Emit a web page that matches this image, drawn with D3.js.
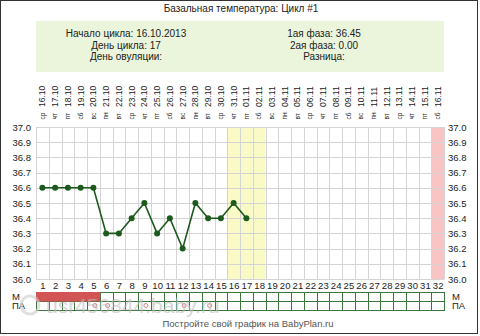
<!DOCTYPE html>
<html>
<head>
<meta charset="utf-8">
<script src="https://cdn.jsdelivr.net/npm/d3@7"></script>
<style>
  body { margin: 0; background: #fff; }
  svg { display: block; font-family: "Liberation Sans", Arial, sans-serif; }
  .grid line { stroke: #d4d4d4; stroke-width: 1; }
  .axis text { font-size: 9.5px; fill: #222; }
  .axis path, .axis line { display: none; }
</style>
</head>
<body>
<svg id="vis" width="480" height="336"></svg>
<script>
// chart data
const dates = ["16.10","17.10","18.10","19.10","20.10","21.10","22.10","23.10","24.10","25.10","26.10","27.10","28.10","29.10","30.10","31.10",
  "01.11","02.11","03.11","04.11","05.11","06.11","07.11","08.11","09.11","10.11","11.11","12.11","13.11","14.11","15.11","16.11"];
const weekdays = ["ср","чт","пт","сб","вс","пн","вт","ср","чт","пт","сб","вс","пн","вт","ср","чт",
  "пт","сб","вс","пн","вт","ср","чт","пт","сб","вс","пн","вт","ср","чт","пт","сб"];
const temps = [36.6, 36.6, 36.6, 36.6, 36.6, 36.3, 36.3, 36.4, 36.5, 36.3, 36.4, 36.2, 36.5, 36.4, 36.4, 36.5, 36.4];
const yTicks = [36.0, 36.1, 36.2, 36.3, 36.4, 36.5, 36.6, 36.7, 36.8, 36.9, 37.0];
const mensDays = [1, 2, 3, 4, 5];
const paDays = [5, 6, 9, 12, 14];
const fertileDays = [16, 17, 18];
const nextCycleDay = [32];
const headerLeft = ["Начало цикла: 16.10.2013", "День цикла: 17", "День овуляции:"];
const headerRight = ["1ая фаза: 36.45", "2ая фаза: 0.00", "Разница:"];

const svg = d3.select("svg#vis");
const days = dates.map((d, i) => i + 1);

const x = d3.scaleLinear().domain([0.5, 32.5]).range([36, 444]);
const y = d3.scaleLinear().domain([36, 37]).range([279, 127]);
const step = x(2) - x(1);

// frame
svg.append("rect").attr("x", 0.5).attr("y", 0.5).attr("width", 477).attr("height", 333)
  .attr("fill", "#fff").attr("stroke", "#333");

// title
svg.append("text").attr("x", 241).attr("y", 12).attr("text-anchor", "middle")
  .attr("font-size", 10).attr("fill", "#222").text("Базальная температура: Цикл #1");

// header box
svg.append("rect").attr("x", 36).attr("y", 21).attr("width", 408).attr("height", 51)
  .attr("fill", "#ebf5dc");
headerLeft.forEach((t, i) => {
  svg.append("text").attr("x", 126).attr("y", 37 + i * 11.5).attr("text-anchor", "middle")
    .attr("font-size", 10).attr("fill", "#222").text(t);
});
headerRight.forEach((t, i) => {
  svg.append("text").attr("x", 324).attr("y", 37 + i * 11.5).attr("text-anchor", "middle")
    .attr("font-size", 10).attr("fill", "#222").text(t);
});

// rotated date + weekday labels
svg.append("g").selectAll("text.date").data(dates).enter().append("text")
  .attr("class", "date")
  .attr("transform", (d, i) => `translate(${x(i + 1) + 3},107) rotate(-90)`)
  .attr("font-size", 8.5).attr("fill", "#222").text(d => d);
svg.append("g").selectAll("text.wd").data(weekdays).enter().append("text")
  .attr("class", "wd")
  .attr("transform", (d, i) => `translate(${x(i + 1) + 2.3},119.5) rotate(-90)`)
  .attr("font-size", 6.5).attr("fill", "#222").text(d => d);

// highlighted columns
svg.append("g").selectAll("rect").data(fertileDays).enter().append("rect")
  .attr("x", d => x(d - 0.5)).attr("y", y(37)).attr("width", step).attr("height", y(36) - y(37))
  .attr("fill", "#fafac6");
svg.append("g").selectAll("rect").data(nextCycleDay).enter().append("rect")
  .attr("x", d => x(d - 0.5)).attr("y", y(37)).attr("width", step).attr("height", y(36) - y(37))
  .attr("fill", "#f8c4c4");

// grid
const grid = svg.append("g").attr("class", "grid");
grid.selectAll("line.v").data(d3.range(0.5, 33, 1)).enter().append("line")
  .attr("x1", d => Math.round(x(d)) + 0.5).attr("x2", d => Math.round(x(d)) + 0.5)
  .attr("y1", y(37)).attr("y2", y(36));
grid.selectAll("line.h").data(yTicks).enter().append("line")
  .attr("x1", x(0.5)).attr("x2", x(32.5))
  .attr("y1", d => Math.round(y(d)) + 0.5).attr("y2", d => Math.round(y(d)) + 0.5);

// y axes
svg.append("g").attr("class", "axis").attr("transform", "translate(31,0)")
  .call(d3.axisLeft(y).tickValues(yTicks).tickSize(0).tickPadding(0).tickFormat(d3.format(".1f")));
svg.append("g").attr("class", "axis").attr("transform", "translate(448,0)")
  .call(d3.axisRight(y).tickValues(yTicks).tickSize(0).tickPadding(0).tickFormat(d3.format(".1f")));

// day numbers
svg.append("g").attr("class", "axis").attr("transform", "translate(0,282)")
  .call(d3.axisBottom(x).tickValues(days).tickSize(0).tickPadding(0));

// temperature line
const line = d3.line().x((d, i) => x(i + 1)).y(d => y(d));
svg.append("path").datum(temps).attr("d", line)
  .attr("fill", "none").attr("stroke", "#1d5a1d").attr("stroke-width", 1.6);
svg.append("g").selectAll("circle").data(temps).enter().append("circle")
  .attr("cx", (d, i) => x(i + 1)).attr("cy", d => y(d)).attr("r", 3)
  .attr("fill", "#1d5a1d");

// M / ПА rows
const rowTop = 292, rowH = 9;
const rows = svg.append("g").attr("stroke", "#3c763c").attr("stroke-width", 1);
rows.append("rect").attr("x", x(0.5) + 0.5).attr("y", rowTop + 0.5)
  .attr("width", x(32.5) - x(0.5)).attr("height", rowH * 2).attr("fill", "none");
rows.append("line").attr("x1", x(0.5)).attr("x2", x(32.5))
  .attr("y1", rowTop + rowH + 0.5).attr("y2", rowTop + rowH + 0.5);
rows.selectAll("line.v").data(d3.range(1.5, 32.5, 1)).enter().append("line")
  .attr("x1", d => Math.round(x(d)) + 0.5).attr("x2", d => Math.round(x(d)) + 0.5)
  .attr("y1", rowTop).attr("y2", rowTop + rowH * 2);
// menstruation bar drawn over the row grid (solid in the reference)
svg.append("g").selectAll("rect").data(mensDays).enter().append("rect")
  .attr("x", d => x(d - 0.5)).attr("y", rowTop).attr("width", step + 0.5).attr("height", rowH + 0.5)
  .attr("fill", "#d25454");
svg.append("g").selectAll("circle").data(paDays).enter().append("circle")
  .attr("cx", d => x(d) + 1.5).attr("cy", rowTop + rowH + 4.5).attr("r", 2)
  .attr("fill", "none").attr("stroke", "#c86464").attr("stroke-width", 0.8);

[["М", 299.5], ["ПА", 309]].forEach(([t, yy]) => {
  svg.append("text").attr("x", 12).attr("y", yy).attr("font-size", 9.5).attr("fill", "#222").text(t);
  svg.append("text").attr("x", 452).attr("y", yy).attr("font-size", 9.5).attr("fill", "#222").text(t);
});

// watermark
svg.append("circle").attr("cx", 30).attr("cy", 305).attr("r", 9)
  .attr("fill", "none").attr("stroke", "#ccc").attr("stroke-width", 3).attr("opacity", 0.6);
svg.append("text").attr("x", 46).attr("y", 313).attr("font-size", 21).attr("fill", "#bbb")
  .attr("opacity", 0.6).text("usr456844.baby.ru");

// footer
svg.append("text").attr("x", 248).attr("y", 327).attr("text-anchor", "middle")
  .attr("font-size", 9.5).attr("fill", "#555").text("Постройте свой график на BabyPlan.ru");
</script>
</body>
</html>
